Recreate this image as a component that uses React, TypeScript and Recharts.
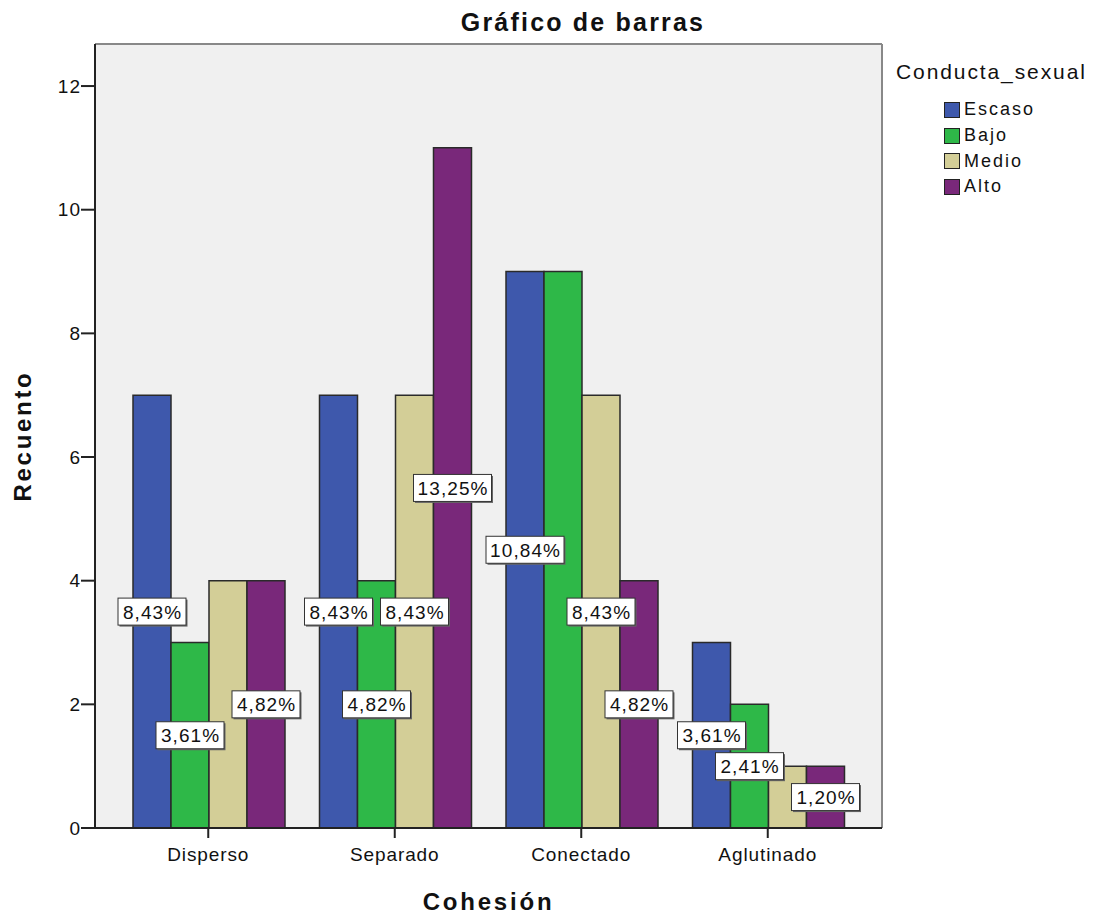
import React from 'react';
import * as Recharts from 'recharts';
import { BarChart, Bar, XAxis, YAxis, Legend, LabelList, CartesianGrid } from 'recharts';

const categories = ['Disperso', 'Separado', 'Conectado', 'Aglutinado'];
const escaso = [7, 7, 9, 3];
const bajo = [3, 4, 9, 2];
const medio = [4, 7, 7, 1];
const alto = [4, 11, 4, 1];
const escasoPct = ['8,43%', '8,43%', '10,84%', '3,61%'];
const bajoPct = ['3,61%', '4,82%', '', '2,41%'];
const medioPct = ['', '8,43%', '8,43%', ''];
const altoPct = ['4,82%', '13,25%', '4,82%', '1,20%'];
const yTicks = [0, 2, 4, 6, 8, 10, 12];

const seriesDefs = [
  { key: 'Escaso', name: 'Escaso', color: '#3E58AC', pct: 'EscasoPct' },
  { key: 'Bajo', name: 'Bajo', color: '#2EB848', pct: 'BajoPct' },
  { key: 'Medio', name: 'Medio', color: '#D3CE97', pct: 'MedioPct' },
  { key: 'Alto', name: 'Alto', color: '#79287A', pct: 'AltoPct' },
];

const data = categories.map((c, i) => ({
  cat: c,
  Escaso: escaso[i],
  Bajo: bajo[i],
  Medio: medio[i],
  Alto: alto[i],
  EscasoPct: escasoPct[i],
  BajoPct: bajoPct[i],
  MedioPct: medioPct[i],
  AltoPct: altoPct[i],
}));

const FONT = 'Liberation Sans, Arial, sans-serif';

const BoxLabel = (props: any) => {
  const { x, y, width, height, value } = props;
  if (!value) return null;
  const cx = x + width / 2;
  const cy = y + height / 2;
  const w = value.length > 5 ? 78 : 68;
  const h = 27;
  return (
    <g>
      <rect x={cx - w / 2 + 1.5} y={cy - h / 2 + 1.5} width={w} height={h} fill="#666" />
      <rect x={cx - w / 2} y={cy - h / 2} width={w} height={h} fill="#fff" stroke="#333" strokeWidth={1} />
      <text x={cx + 0.6} y={cy + 7} textAnchor="middle" fontFamily={FONT} fontSize={19} letterSpacing={1.1} fill="#111">
        {value}
      </text>
    </g>
  );
};

const LegendContent = () => (
  <div style={{ fontFamily: FONT, color: '#111' }}>
    <div style={{ fontSize: 21, lineHeight: '22px', marginBottom: 14, letterSpacing: 1.9, whiteSpace: 'nowrap' }}>Conducta_sexual</div>
    {seriesDefs.map((s) => (
      <div key={s.key} style={{ display: 'flex', alignItems: 'center', marginLeft: 48, height: 25.7 }}>
        <div style={{ width: 14, height: 14, background: s.color, border: '1.5px solid #222', marginRight: 4 }} />
        <span style={{ fontSize: 18, letterSpacing: 2 }}>{s.name}</span>
      </div>
    ))}
  </div>
);

const Frame = () => {
  const hook = (Recharts as any).usePlotArea || (Recharts as any).useOffset;
  const area = hook ? hook() : null;
  if (!area) return null;
  const left = area.x ?? area.left;
  const top = area.y ?? area.top;
  const width = area.width;
  const height = area.height;
  return (
    <g>
      <line x1={left} y1={top} x2={left + width} y2={top} stroke="#888" strokeWidth={2} />
      <line x1={left + width} y1={top} x2={left + width} y2={top + height} stroke="#888" strokeWidth={2} />
    </g>
  );
};

export default function App() {
  return (
    <div style={{ position: 'absolute', left: 0, top: 0, width: 1096, height: 915, background: '#fff' }}>
      <BarChart
        width={1096}
        height={915}
        data={data}
        margin={{ top: 44, right: 214, bottom: 0, left: 0 }}
        barCategoryGap={18}
        barGap={0}
      >
        <CartesianGrid fill="#F0F0F0" horizontal={false} vertical={false} />
        <text x={583} y={31} textAnchor="middle" fontFamily={FONT} fontWeight="bold" fontSize={25} letterSpacing={2.2} fill="#111">
          Gráfico de barras
        </text>
        <XAxis
          dataKey="cat"
          height={87}
          padding={{ left: 20, right: 21 }}
          axisLine={{ stroke: '#222', strokeWidth: 2 }}
          tickLine={{ stroke: '#222', strokeWidth: 2 }}
          tickSize={10}
          tickMargin={10}
          tick={{ fontFamily: FONT, fontSize: 19, fill: '#111', letterSpacing: 0.9 }}
          label={{ value: 'Cohesión', position: 'insideBottom', offset: 5, style: { fontFamily: FONT, fontWeight: 'bold', fontSize: 24, letterSpacing: 2.8, fill: '#111' } }}
        />
        <YAxis
          width={95}
          domain={[0, 12.68]}
          ticks={yTicks}
          allowDataOverflow
          axisLine={{ stroke: '#222', strokeWidth: 2 }}
          tickLine={{ stroke: '#222', strokeWidth: 2 }}
          tickSize={14}
          tickMargin={0}
          tick={{ fontFamily: FONT, fontSize: 19, fill: '#111', letterSpacing: 1 }}
          label={{ value: 'Recuento', angle: -90, position: 'insideLeft', offset: 22, style: { fontFamily: FONT, fontWeight: 'bold', fontSize: 24, letterSpacing: 2.7, fill: '#111', textAnchor: 'middle' } }}
        />
        <Legend
          layout="vertical"
          verticalAlign="middle"
          align="center"
          content={<LegendContent />}
          wrapperStyle={{ position: 'absolute', left: 896, top: 61, width: 200 }}
        />
        {seriesDefs.map((s) => (
          <Bar key={s.key} dataKey={s.key} name={s.name} fill={s.color} stroke="#2a2a2a" strokeWidth={1.5} isAnimationActive={false}>
            <LabelList dataKey={s.pct} content={<BoxLabel />} />
          </Bar>
        ))}
        <Frame />
      </BarChart>
    </div>
  );
}
